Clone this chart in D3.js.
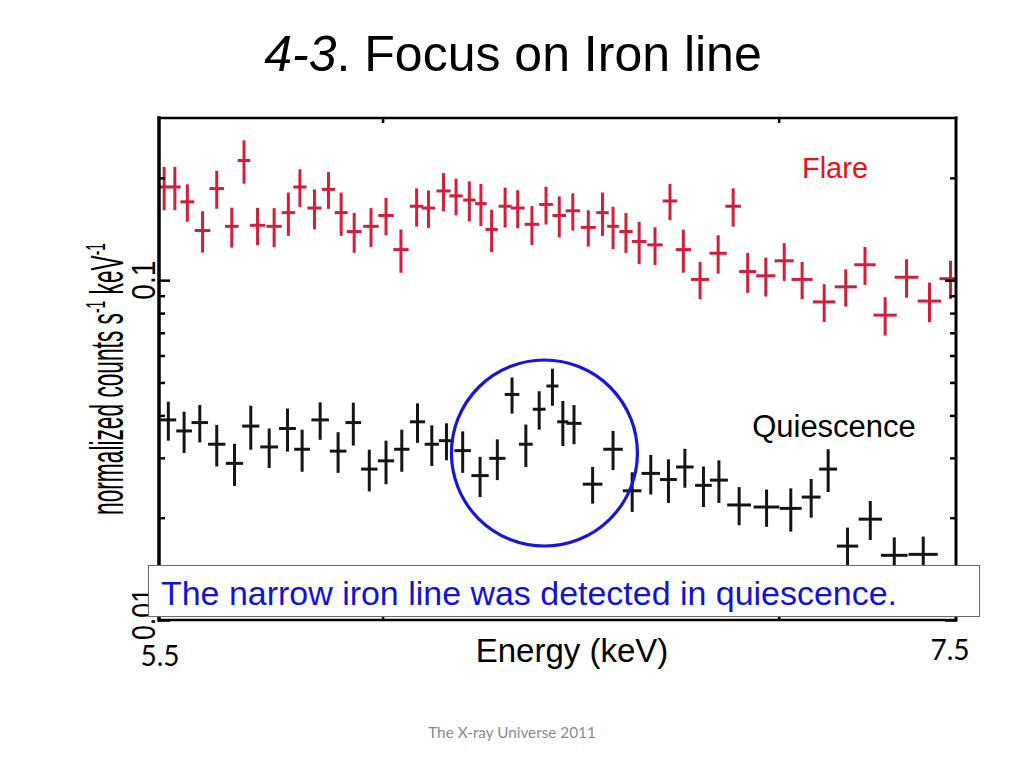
<!DOCTYPE html>
<html>
<head>
<meta charset="utf-8">
<script src="https://cdn.jsdelivr.net/npm/d3@7"></script>
<style>
  html, body { margin: 0; padding: 0; background: #ffffff; }
  svg { display: block; }
</style>
</head>
<body>
<script>
// ---------------- data ----------------
const titleItalic = "4-3";
const titleRest = ". Focus on Iron line";
const xLabel = "Energy (keV)";
const xEndLabels = ["5.5", "7.5"];
const yTickMajor = [0.01, 0.1];
const yTickMajorLabels = ["0.01", "0.1"];
const yTickMinor = [0.02, 0.03, 0.04, 0.05, 0.06, 0.07, 0.08, 0.09, 0.2];
const xTickTop = [6, 7];
const seriesNames = ["Flare", "Quiescence"];
const noteText = "The narrow iron line was detected in quiescence.";
const footerText = "The X-ray Universe 2011";
const lineEnergy = 6.39;   // circled narrow iron line
const lineLevel = 0.031;

// Flare spectrum (keV, normalized counts s^-1 keV^-1)
const flareE = [5.511, 5.534, 5.561, 5.594, 5.625, 5.658, 5.685, 5.715, 5.752, 5.784,
  5.810, 5.843, 5.875, 5.904, 5.934, 5.973, 6.008, 6.043, 6.080, 6.108,
  6.144, 6.174, 6.206, 6.234, 6.260, 6.293, 6.324, 6.359, 6.394, 6.427,
  6.461, 6.500, 6.536, 6.563, 6.596, 6.630, 6.671, 6.710, 6.745, 6.789,
  6.837, 6.877, 6.916, 6.965, 7.015, 7.064, 7.125, 7.185, 7.239, 7.296,
  7.357, 7.423, 7.484];
const flareV = [0.188, 0.188, 0.170, 0.140, 0.186, 0.144, 0.225, 0.145, 0.144, 0.158,
  0.188, 0.163, 0.185, 0.158, 0.139, 0.144, 0.155, 0.123, 0.165, 0.163,
  0.183, 0.177, 0.172, 0.168, 0.141, 0.165, 0.163, 0.146, 0.167, 0.155,
  0.160, 0.143, 0.158, 0.144, 0.139, 0.130, 0.127, 0.171, 0.123, 0.1005,
  0.120, 0.165, 0.106, 0.103, 0.114, 0.1005, 0.0863, 0.0956, 0.111, 0.0789,
  0.102, 0.0868, 0.101];
const flareErr = [0.0274, 0.0274, 0.0214, 0.0195, 0.0238, 0.0194, 0.0328, 0.0182, 0.0189, 0.0230,
  0.0239, 0.0219, 0.0229, 0.0230, 0.0187, 0.0189, 0.0195, 0.0179, 0.0213, 0.0205,
  0.0236, 0.0219, 0.0232, 0.0239, 0.0201, 0.0222, 0.0209, 0.0192, 0.0212, 0.0214,
  0.0201, 0.0175, 0.0230, 0.0205, 0.0187, 0.0185, 0.0161, 0.0209, 0.0178, 0.0126,
  0.0155, 0.0213, 0.0143, 0.0135, 0.0145, 0.0126, 0.0110, 0.0120, 0.0142, 0.0102,
  0.0132, 0.0116, 0.0130];
const flareHW = [0.012, 0.0125, 0.015, 0.017, 0.016, 0.015, 0.014, 0.017, 0.017, 0.015,
  0.015, 0.016, 0.015, 0.015, 0.017, 0.018, 0.018, 0.018, 0.016, 0.016,
  0.017, 0.016, 0.015, 0.014, 0.015, 0.016, 0.017, 0.018, 0.017, 0.017,
  0.018, 0.019, 0.016, 0.015, 0.017, 0.019, 0.020, 0.019, 0.020, 0.024,
  0.023, 0.021, 0.023, 0.026, 0.026, 0.029, 0.031, 0.031, 0.030, 0.033,
  0.034, 0.034, 0.032];

// Quiescence spectrum
const quiE = [5.520, 5.554, 5.588, 5.625, 5.664, 5.700, 5.741, 5.782, 5.815, 5.856,
  5.897, 5.932, 5.969, 6.008, 6.045, 6.082, 6.116, 6.151, 6.190, 6.232,
  6.274, 6.310, 6.344, 6.377, 6.410, 6.436, 6.464, 6.511, 6.563, 6.612,
  6.660, 6.706, 6.749, 6.798, 6.839, 6.893, 6.967, 7.033, 7.089, 7.136,
  7.190, 7.254, 7.322, 7.405];
const quiV = [0.0388, 0.0360, 0.0381, 0.0329, 0.0289, 0.0372, 0.0323, 0.0366, 0.0318, 0.0388,
  0.0314, 0.0381, 0.0278, 0.0294, 0.0318, 0.0383, 0.0329, 0.0337, 0.0315, 0.0266,
  0.0299, 0.0461, 0.0329, 0.0417, 0.0488, 0.0383, 0.0379, 0.0251, 0.0318, 0.0240,
  0.0270, 0.0259, 0.0282, 0.0249, 0.0258, 0.0218, 0.0215, 0.0213, 0.0230, 0.0278,
  0.0165, 0.0198, 0.0155, 0.0156];
const quiErr = [0.0051, 0.0050, 0.0048, 0.0046, 0.0041, 0.0055, 0.0043, 0.0053, 0.0045, 0.0049,
  0.0043, 0.0055, 0.0039, 0.0043, 0.0045, 0.0051, 0.0045, 0.0042, 0.0044, 0.0036,
  0.0041, 0.0056, 0.0047, 0.0054, 0.0061, 0.0058, 0.0050, 0.0031, 0.0042, 0.0032,
  0.0036, 0.0038, 0.0037, 0.0034, 0.0037, 0.0028, 0.0027, 0.0031, 0.0030, 0.0040,
  0.0022, 0.0026, 0.0020, 0.0020];
const quiHW = [0.017, 0.017, 0.018, 0.019, 0.019, 0.019, 0.020, 0.019, 0.018, 0.020,
  0.019, 0.018, 0.019, 0.019, 0.018, 0.018, 0.017, 0.018, 0.020, 0.021,
  0.020, 0.018, 0.017, 0.016, 0.015, 0.014, 0.019, 0.025, 0.025, 0.024,
  0.024, 0.022, 0.023, 0.022, 0.024, 0.032, 0.035, 0.030, 0.026, 0.025,
  0.030, 0.033, 0.038, 0.042];

// ---------------- layout ----------------
const W = 1024, H = 768;
const plot = { left: 159, right: 956, top: 118, bottom: 620 };
const colors = {
  flare: "#d21f3c", quiet: "#151515", flareText: "#ee1111",
  note: "#1212dd", circle: "#1616dc", frame: "#000000", footer: "#8a8a8a"
};
const sans = "'Liberation Sans', Arial, sans-serif";

const svg = d3.select("body").append("svg").attr("width", W).attr("height", H);

const x = d3.scaleLog().domain([5.5, 7.5]).range([plot.left, plot.right]);
const y = d3.scaleLog().domain([0.01, 0.3]).range([plot.bottom, plot.top]);

// title
const title = svg.append("text")
  .attr("x", 513).attr("y", 71)
  .attr("text-anchor", "middle")
  .attr("font-family", sans).attr("font-size", 50).attr("fill", "#000");
title.append("tspan").attr("font-style", "italic").text(titleItalic);
title.append("tspan").text(titleRest);

// clip
svg.append("defs").append("clipPath").attr("id", "clip")
  .append("rect")
  .attr("x", plot.left).attr("y", plot.top)
  .attr("width", plot.right - plot.left).attr("height", plot.bottom - plot.top);

const dataG = svg.append("g").attr("clip-path", "url(#clip)");

function drawSeries(E, V, ERR, HW, color) {
  const pts = E.map((e, i) => ({ e, v: V[i], err: ERR[i], hw: HW[i] }));
  const g = dataG.append("g").attr("stroke", color).attr("stroke-width", 3).attr("fill", "none");
  g.selectAll("line.h").data(pts).join("line").attr("class", "h")
    .attr("x1", d => x(d.e - d.hw)).attr("x2", d => x(d.e + d.hw))
    .attr("y1", d => y(d.v)).attr("y2", d => y(d.v));
  g.selectAll("line.v").data(pts).join("line").attr("class", "v")
    .attr("x1", d => x(d.e)).attr("x2", d => x(d.e))
    .attr("y1", d => y(d.v - d.err)).attr("y2", d => y(d.v + d.err));
}
drawSeries(flareE, flareV, flareErr, flareHW, colors.flare);
drawSeries(quiE, quiV, quiErr, quiHW, colors.quiet);

// ticks (inward)
function tickAxis(axis, tx, ty) {
  const g = svg.append("g").attr("transform", `translate(${tx},${ty})`).call(axis);
  g.select(".domain").remove();
  g.selectAll(".tick line").attr("stroke", "#000").attr("stroke-width", 2.5);
  g.selectAll(".tick text").remove();
  return g;
}
tickAxis(d3.axisRight(y).tickValues(yTickMinor).tickSize(6), plot.left, 0);
tickAxis(d3.axisRight(y).tickValues(yTickMajor).tickSize(11), plot.left, 0);
tickAxis(d3.axisLeft(y).tickValues(yTickMinor).tickSize(6), plot.right, 0);
tickAxis(d3.axisLeft(y).tickValues(yTickMajor).tickSize(11), plot.right, 0);
tickAxis(d3.axisBottom(x).tickValues(xTickTop).tickSize(5), 0, plot.top);
tickAxis(d3.axisTop(x).tickValues(xTickTop).tickSize(5), 0, plot.bottom);

// frame
const frame = svg.append("g").attr("stroke", colors.frame).attr("stroke-linecap", "square");
frame.append("line").attr("x1", plot.left).attr("x2", plot.left).attr("y1", plot.top).attr("y2", plot.bottom).attr("stroke-width", 3.5);
frame.append("line").attr("x1", plot.right).attr("x2", plot.right).attr("y1", plot.top).attr("y2", plot.bottom).attr("stroke-width", 3);
frame.append("line").attr("x1", plot.left).attr("x2", plot.right).attr("y1", plot.top).attr("y2", plot.top).attr("stroke-width", 2.5);
frame.append("line").attr("x1", plot.left).attr("x2", plot.right).attr("y1", plot.bottom).attr("y2", plot.bottom).attr("stroke-width", 2.5);

// condensed rotated texts (y label and y tick labels)
function condensed(parent, cx, cy, fontSize, targetLen, build) {
  const g = parent.append("g").attr("transform", `translate(${cx},${cy}) rotate(-90)`);
  const inner = g.append("g");
  const t = inner.append("text").attr("font-family", sans).attr("font-size", fontSize)
    .attr("fill", "#000").attr("text-anchor", "middle");
  build(t);
  const len = t.node().getComputedTextLength();
  inner.attr("transform", `scale(${targetLen / len},1)`);
  return g;
}
condensed(svg, 123, 379, 46, 272, t => {
  t.append("tspan").text("normalized counts s");
  t.append("tspan").attr("font-size", 28).attr("dy", -18).text("-1");
  t.append("tspan").attr("dy", 18).text(" keV");
  t.append("tspan").attr("font-size", 28).attr("dy", -18).text("-1");
});
yTickMajor.forEach((v, i) => {
  const lab = yTickMajorLabels[i];
  condensed(svg, 155, y(v) - (i === 0 ? 6 : 0), 33, lab.length * 13, t => t.text(lab));
});

// highlight circle around the iron line
svg.append("circle")
  .attr("cx", x(lineEnergy)).attr("cy", y(lineLevel)).attr("r", 93)
  .attr("fill", "none").attr("stroke", colors.circle).attr("stroke-width", 3.2);

// series labels
svg.append("text").attr("x", 835).attr("y", 178).attr("text-anchor", "middle")
  .attr("font-family", sans).attr("font-size", 29).attr("fill", colors.flareText).text(seriesNames[0]);
svg.append("text").attr("x", 834).attr("y", 437).attr("text-anchor", "middle")
  .attr("font-family", sans).attr("font-size", 31).attr("fill", "#000").text(seriesNames[1]);

// note box
svg.append("rect").attr("x", 148.5).attr("y", 565.5).attr("width", 831).attr("height", 51)
  .attr("fill", "#ffffff").attr("stroke", "#6b6b6b").attr("stroke-width", 1);
svg.append("text").attr("x", 161).attr("y", 605)
  .attr("font-family", sans).attr("font-size", 33.5).attr("fill", colors.note)
  .attr("textLength", 736).attr("lengthAdjust", "spacingAndGlyphs")
  .text(noteText);

// x labels
svg.append("text").attr("x", 572).attr("y", 662).attr("text-anchor", "middle")
  .attr("font-family", sans).attr("font-size", 33).attr("fill", "#000").text(xLabel);
svg.append("text").attr("x", 160).attr("y", 666).attr("text-anchor", "middle")
  .attr("font-family", "Lato, 'Open Sans', sans-serif").attr("font-size", 28).attr("fill", "#000").text(xEndLabels[0]);
svg.append("text").attr("x", 950).attr("y", 660).attr("text-anchor", "middle")
  .attr("font-family", "Lato, 'Open Sans', sans-serif").attr("font-size", 28).attr("fill", "#000").text(xEndLabels[1]);

// footer
svg.append("text").attr("x", 512).attr("y", 738).attr("text-anchor", "middle")
  .attr("font-family", "Lato, 'Open Sans', sans-serif").attr("font-size", 15.3).attr("fill", colors.footer).text(footerText);
</script>
</body>
</html>
